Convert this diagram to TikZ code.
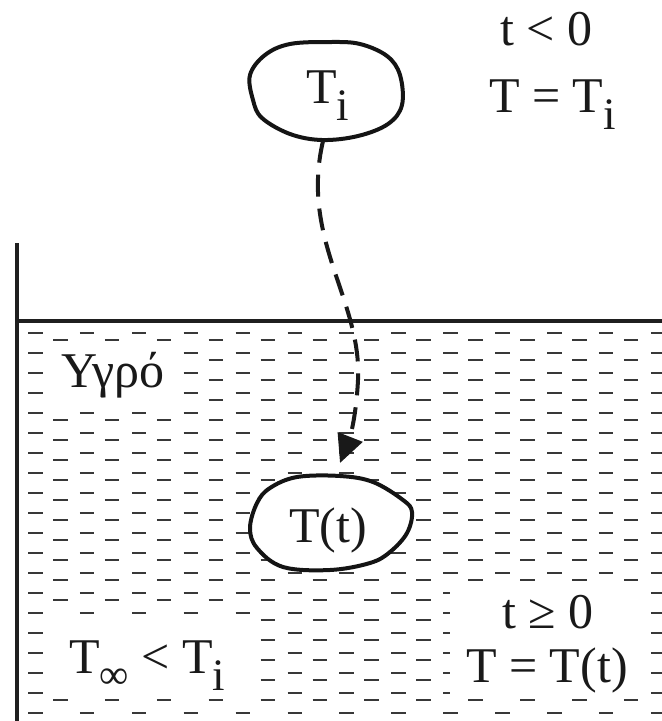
\documentclass[tikz,border=0pt]{standalone}
\usepackage{fontspec}
\setmainfont{Liberation Serif}
\usetikzlibrary{arrows.meta}
\newcommand\mysubi{\raisebox{-17pt}{\fontsize{45}{45}\selectfont i}}
\newcommand\mysubinf{\raisebox{-15pt}{\fontsize{41}{41}\selectfont ∞}}
\begin{document}
\begin{tikzpicture}[x=1pt,y=-1pt,
  wall/.style={line width=4.2pt, black!88},
  liq/.style={line width=2.4pt, black!78},
  blob/.style={line width=4pt, black!92, fill=white, line join=round},
  lbl/.style={inner sep=0pt, anchor=base west, font=\fontsize{50}{60}\selectfont, text=black!90},
  mask/.style={fill=white, draw=none},
  moveline/.style={line width=4pt, black!90, dash pattern=on 22pt off 12pt, -{Triangle[length=28pt,width=26pt]}}
]
\useasboundingbox (0,0) rectangle (662,721);
% liquid hatching
\foreach \k in {0,...,19} { \foreach \m in {0,...,12} { \draw[liq] ({28+51.9*\m},{332.7+20*\k}) -- ++(14.5,0); } }
\foreach \k in {0,...,18} { \foreach \m in {0,...,11} { \draw[liq] ({53+51.9*\m},{340+20*\k}) -- ++(14.5,0); } }
% clear areas behind the texts
\fill[mask] (45,344) rectangle (176,408);
\fill[mask] (45,616) rectangle (256,697);
\fill[mask] (450,587) rectangle (646,697);
% tank
\draw[wall] (17,243) -- (17,721);
\draw[wall] (15,321) -- (662,321);
% bodies
\draw[blob] plot[smooth cycle, tension=0.6] coordinates {(250,75) (265,55) (290,44) (330,42) (360,44) (387,56) (400,75) (402,105) (388,124) (358,136) (322,140) (290,134) (262,118) (253,100)};
\draw[blob] plot[smooth cycle, tension=0.6] coordinates {(257,503) (270,488) (297,477) (340,476) (373,482) (403,500) (412,512) (407,533) (390,552) (370,563) (330,570) (283,567) (257,548) (250,528)};
% texts
\node[lbl] (ti) at (306,103) {T\mysubi};
\node[lbl] (tt) at (289,542) {T(t)};
\node[lbl] (tneg) at (500,45) {t < 0};
\node[lbl] (teqi) at (489,112) {T = T\mysubi};
\node[lbl] (tpos) at (502,628) {t ≥ 0};
\node[lbl] (teqt) at (466,682) {T = T(t)};
\node[lbl] (fluid) at (61,387) {Υγρό};
\node[lbl] (tinf) at (69,673) {T\mysubinf{} < T\mysubi};
% motion
\coordinate (src) at (323,141);
\coordinate (dst) at (340,463);
\draw[moveline] (src) .. controls (300,240) and (362,300) .. (358,380) .. controls (356,420) and (349,440) .. (dst);
\end{tikzpicture}
\end{document}
